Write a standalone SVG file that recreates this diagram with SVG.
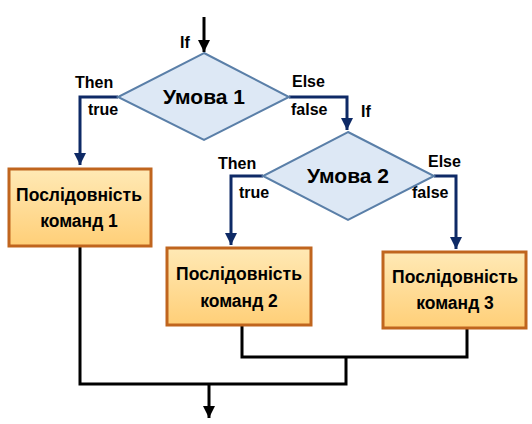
<svg xmlns="http://www.w3.org/2000/svg" width="532" height="424" viewBox="0 0 532 424">
<style>
.dia{fill:#DDE8F5;stroke:#5A7FA8;stroke-width:2}
.box{fill:url(#og);stroke:#C0651E;stroke-width:3}
.t{font-family:"Liberation Sans",Arial,sans-serif;font-weight:bold;fill:#000}
.big{font-size:17.5px}
.cond{font-size:21px}
.lbl{font-size:16px}
.nav{fill:none;stroke:#0E2A66;stroke-width:3}
.blk{fill:none;stroke:#000;stroke-width:3}
</style>
<defs>
<linearGradient id="og" x1="0" y1="0" x2="0" y2="1">
<stop offset="0" stop-color="#FFE9B5"/>
<stop offset="1" stop-color="#FFCF78"/>
</linearGradient>
<marker id="an" viewBox="0 0 10 10" refX="10" refY="5" markerWidth="4" markerHeight="4" orient="auto" markerUnits="strokeWidth">
<path d="M0,0 L10,5 L0,10 z" fill="#0E2A66"/>
</marker>
<marker id="ab" viewBox="0 0 10 10" refX="10" refY="5" markerWidth="4" markerHeight="4" orient="auto" markerUnits="strokeWidth">
<path d="M0,0 L10,5 L0,10 z" fill="#000"/>
</marker>
</defs>
<g id="connectors">
<path class="blk" d="M204,17 V52" marker-end="url(#ab)"/>
<path class="nav" d="M118,97 H80 V165" marker-end="url(#an)"/>
<path class="nav" d="M289,97 H347 V130" marker-end="url(#an)"/>
<path class="nav" d="M263,176 H231 V245" marker-end="url(#an)"/>
<path class="nav" d="M434,176 H456 V249" marker-end="url(#an)"/>
<path class="blk" d="M80,246 V384 H346 V357"/>
<path class="blk" d="M242,325 V357 H467 V328"/>
<path class="blk" d="M209,384 V418" marker-end="url(#ab)"/>
<text class="t lbl" x="180" y="48">If</text>
<text class="t lbl" x="75" y="88">Then</text>
<text class="t lbl" x="88" y="115">true</text>
<text class="t lbl" x="292" y="87">Else</text>
<text class="t lbl" x="291" y="115">false</text>
<text class="t lbl" x="361" y="117">If</text>
<text class="t lbl" x="218" y="169">Then</text>
<text class="t lbl" x="239" y="198">true</text>
<text class="t lbl" x="428" y="167">Else</text>
<text class="t lbl" x="412" y="198">false</text>
</g>
<g id="cond1">
<polygon class="dia" points="204,53 289,97 204,140 118,97"/>
<text class="t cond" x="204" y="104" text-anchor="middle">Умова 1</text>
</g>
<g id="cond2">
<polygon class="dia" points="348,132 434,176 348,220 263,176"/>
<text class="t cond" x="348" y="183" text-anchor="middle">Умова 2</text>
</g>
<g id="seq1">
<rect class="box" x="9" y="169" width="142" height="77"/>
<text class="t big" x="79" y="201" text-anchor="middle">Послідовність</text>
<text class="t big" x="79" y="227" text-anchor="middle">команд 1</text>
</g>
<g id="seq2">
<rect class="box" x="167" y="248" width="144" height="77"/>
<text class="t big" x="239" y="280" text-anchor="middle">Послідовність</text>
<text class="t big" x="239" y="307" text-anchor="middle">команд 2</text>
</g>
<g id="seq3">
<rect class="box" x="383" y="252" width="143" height="76"/>
<text class="t big" x="455" y="283" text-anchor="middle">Послідовність</text>
<text class="t big" x="455" y="309" text-anchor="middle">команд 3</text>
</g>
</svg>
